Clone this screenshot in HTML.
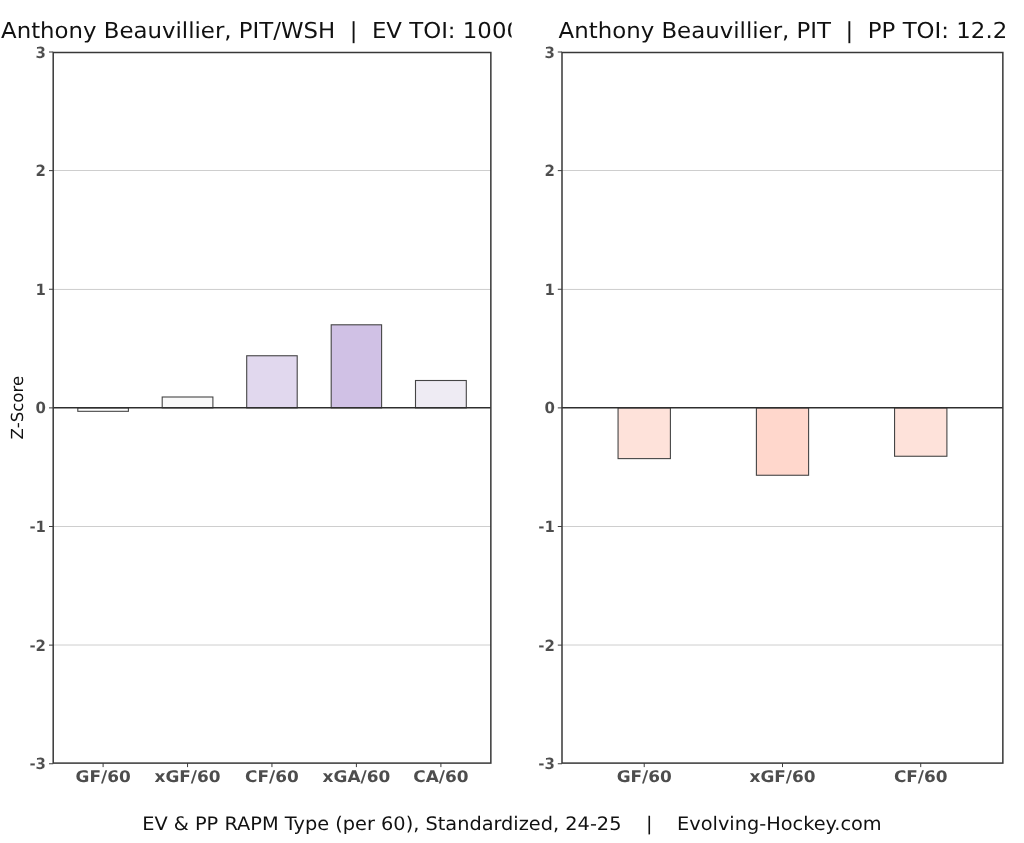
<!DOCTYPE html>
<html lang="en"><head><meta charset="utf-8"><title>RAPM Chart - Anthony Beauvillier</title>
<style>html,body{margin:0;padding:0;background:#fff}body{width:1024px;height:843px;overflow:hidden}svg{display:block}text{font-family:"DejaVu Sans","Liberation Sans",sans-serif;text-rendering:geometricPrecision}.t{font-size:22px;fill:#111;white-space:pre}.f{font-size:18.67px;fill:#111;white-space:pre}.yl{font-size:15.5px;font-weight:bold;fill:#4d4d4d;text-anchor:end;stroke:#fff;stroke-width:0.08px}.xl{font-size:16px;font-weight:bold;fill:#4d4d4d;text-anchor:middle}.ax{font-size:16.6px;fill:#111;text-anchor:middle}</style></head><body>
<svg width="1024" height="843" viewBox="0 0 1024 843">
<rect width="1024" height="843" fill="#ffffff"/>
<defs><clipPath id="cl"><rect x="0" y="0" width="511.6" height="843"/></clipPath></defs>
<line x1="53.20" x2="490.85" y1="170.50" y2="170.50" stroke="#cecece" stroke-width="1"/>
<line x1="53.20" x2="490.85" y1="289.45" y2="289.45" stroke="#cecece" stroke-width="1"/>
<line x1="53.20" x2="490.85" y1="526.50" y2="526.50" stroke="#cecece" stroke-width="1"/>
<line x1="53.20" x2="490.85" y1="645.00" y2="645.00" stroke="#cecece" stroke-width="1"/>
<rect x="77.80" y="407.88" width="50.60" height="3.43" fill="#ffffff" stroke="#454545" stroke-width="1.1"/>
<rect x="162.20" y="397.00" width="50.70" height="10.88" fill="#f9f9f9" stroke="#454545" stroke-width="1.1"/>
<rect x="246.70" y="355.75" width="50.50" height="52.12" fill="#e1d8ee" stroke="#454545" stroke-width="1.1"/>
<rect x="331.20" y="324.80" width="50.40" height="83.07" fill="#d0c1e5" stroke="#454545" stroke-width="1.1"/>
<rect x="415.50" y="380.50" width="50.80" height="27.38" fill="#eeebf3" stroke="#454545" stroke-width="1.1"/>
<line x1="53.20" x2="490.85" y1="407.75" y2="407.75" stroke="#2e2e2e" stroke-width="1.4"/>
<rect x="53.20" y="52.50" width="437.65" height="710.60" fill="none" stroke="#383838" stroke-width="1.5"/>
<line x1="49.00" x2="53.20" y1="52.00" y2="52.00" stroke="#3c3c3c" stroke-width="1"/>
<text class="yl" transform="translate(46.00,57.50) scale(0.965,1)">3</text>
<line x1="49.00" x2="53.20" y1="170.62" y2="170.62" stroke="#3c3c3c" stroke-width="1"/>
<text class="yl" transform="translate(46.00,176.12) scale(0.965,1)">2</text>
<line x1="49.00" x2="53.20" y1="289.25" y2="289.25" stroke="#3c3c3c" stroke-width="1"/>
<text class="yl" transform="translate(46.00,294.75) scale(0.965,1)">1</text>
<line x1="49.00" x2="53.20" y1="407.88" y2="407.88" stroke="#3c3c3c" stroke-width="1"/>
<text class="yl" transform="translate(46.00,413.38) scale(0.965,1)">0</text>
<line x1="49.00" x2="53.20" y1="526.50" y2="526.50" stroke="#3c3c3c" stroke-width="1"/>
<text class="yl" transform="translate(46.00,532.00) scale(0.965,1)">-1</text>
<line x1="49.00" x2="53.20" y1="645.12" y2="645.12" stroke="#3c3c3c" stroke-width="1"/>
<text class="yl" transform="translate(46.00,650.62) scale(0.965,1)">-2</text>
<line x1="49.00" x2="53.20" y1="763.75" y2="763.75" stroke="#3c3c3c" stroke-width="1"/>
<text class="yl" transform="translate(46.00,769.25) scale(0.965,1)">-3</text>
<line x1="103.10" x2="103.10" y1="763.10" y2="767.10" stroke="#3c3c3c" stroke-width="1"/>
<text class="xl" transform="translate(103.10,781.60) scale(1.057,1)">GF/60</text>
<line x1="187.55" x2="187.55" y1="763.10" y2="767.10" stroke="#3c3c3c" stroke-width="1"/>
<text class="xl" transform="translate(187.55,781.60) scale(1.057,1)">xGF/60</text>
<line x1="271.95" x2="271.95" y1="763.10" y2="767.10" stroke="#3c3c3c" stroke-width="1"/>
<text class="xl" transform="translate(271.95,781.60) scale(1.057,1)">CF/60</text>
<line x1="356.40" x2="356.40" y1="763.10" y2="767.10" stroke="#3c3c3c" stroke-width="1"/>
<text class="xl" transform="translate(356.40,781.60) scale(1.057,1)">xGA/60</text>
<line x1="440.90" x2="440.90" y1="763.10" y2="767.10" stroke="#3c3c3c" stroke-width="1"/>
<text class="xl" transform="translate(440.90,781.60) scale(1.057,1)">CA/60</text>
<line x1="562.00" x2="1002.85" y1="170.50" y2="170.50" stroke="#cecece" stroke-width="1"/>
<line x1="562.00" x2="1002.85" y1="289.45" y2="289.45" stroke="#cecece" stroke-width="1"/>
<line x1="562.00" x2="1002.85" y1="526.50" y2="526.50" stroke="#cecece" stroke-width="1"/>
<line x1="562.00" x2="1002.85" y1="645.00" y2="645.00" stroke="#cecece" stroke-width="1"/>
<rect x="618.06" y="407.88" width="52.34" height="50.73" fill="#fee2da" stroke="#454545" stroke-width="1.1"/>
<rect x="756.40" y="407.88" width="52.20" height="67.38" fill="#ffd7cc" stroke="#454545" stroke-width="1.1"/>
<rect x="894.56" y="407.88" width="52.34" height="48.38" fill="#fee2da" stroke="#454545" stroke-width="1.1"/>
<line x1="562.00" x2="1002.85" y1="407.75" y2="407.75" stroke="#2e2e2e" stroke-width="1.4"/>
<rect x="562.00" y="52.50" width="440.85" height="710.60" fill="none" stroke="#383838" stroke-width="1.5"/>
<line x1="557.80" x2="562.00" y1="52.00" y2="52.00" stroke="#3c3c3c" stroke-width="1"/>
<text class="yl" transform="translate(554.80,57.50) scale(0.965,1)">3</text>
<line x1="557.80" x2="562.00" y1="170.62" y2="170.62" stroke="#3c3c3c" stroke-width="1"/>
<text class="yl" transform="translate(554.80,176.12) scale(0.965,1)">2</text>
<line x1="557.80" x2="562.00" y1="289.25" y2="289.25" stroke="#3c3c3c" stroke-width="1"/>
<text class="yl" transform="translate(554.80,294.75) scale(0.965,1)">1</text>
<line x1="557.80" x2="562.00" y1="407.88" y2="407.88" stroke="#3c3c3c" stroke-width="1"/>
<text class="yl" transform="translate(554.80,413.38) scale(0.965,1)">0</text>
<line x1="557.80" x2="562.00" y1="526.50" y2="526.50" stroke="#3c3c3c" stroke-width="1"/>
<text class="yl" transform="translate(554.80,532.00) scale(0.965,1)">-1</text>
<line x1="557.80" x2="562.00" y1="645.12" y2="645.12" stroke="#3c3c3c" stroke-width="1"/>
<text class="yl" transform="translate(554.80,650.62) scale(0.965,1)">-2</text>
<line x1="557.80" x2="562.00" y1="763.75" y2="763.75" stroke="#3c3c3c" stroke-width="1"/>
<text class="yl" transform="translate(554.80,769.25) scale(0.965,1)">-3</text>
<line x1="644.23" x2="644.23" y1="763.10" y2="767.10" stroke="#3c3c3c" stroke-width="1"/>
<text class="xl" transform="translate(644.23,781.60) scale(1.057,1)">GF/60</text>
<line x1="782.50" x2="782.50" y1="763.10" y2="767.10" stroke="#3c3c3c" stroke-width="1"/>
<text class="xl" transform="translate(782.50,781.60) scale(1.057,1)">xGF/60</text>
<line x1="920.73" x2="920.73" y1="763.10" y2="767.10" stroke="#3c3c3c" stroke-width="1"/>
<text class="xl" transform="translate(920.73,781.60) scale(1.057,1)">CF/60</text>
<text class="ax" transform="translate(22.9,407.65) rotate(-90)" x="0" y="0">Z-Score</text>
<g clip-path="url(#cl)"><text class="t" x="1.05" y="37.6" textLength="519.9" lengthAdjust="spacingAndGlyphs" xml:space="preserve">Anthony Beauvillier, PIT/WSH  |  EV TOI: 1000</text></g>
<text class="t" x="558.6" y="37.6" textLength="448.6" lengthAdjust="spacingAndGlyphs" xml:space="preserve">Anthony Beauvillier, PIT  |  PP TOI: 12.2</text>
<text class="f" x="142.2" y="830.3" textLength="739.5" lengthAdjust="spacingAndGlyphs" xml:space="preserve">EV &amp; PP RAPM Type (per 60), Standardized, 24-25    |    Evolving-Hockey.com</text>
</svg></body></html>
